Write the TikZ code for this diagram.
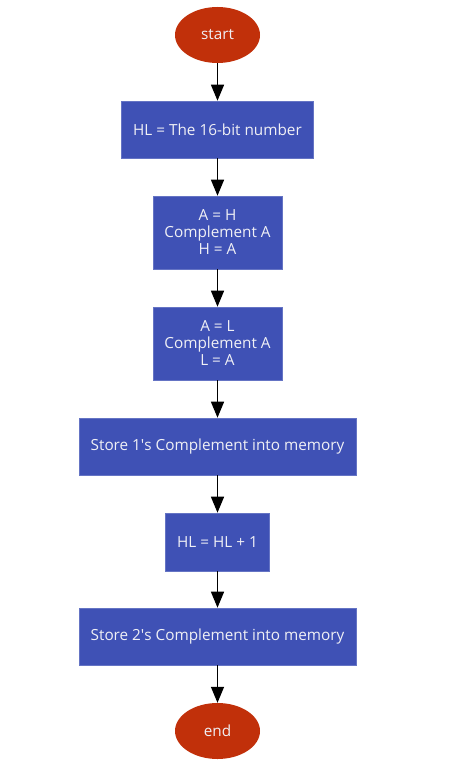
\documentclass[tikz,border=0pt]{standalone}
\usepackage{fontspec}
\setmainfont{Open Sans}
\usepackage{tikz}
\usetikzlibrary{shapes.geometric,arrows.meta}

\definecolor{termred}{RGB}{193,48,10}
\definecolor{stepblue}{RGB}{63,81,181}
\definecolor{steptext}{RGB}{240,240,245}

\tikzset{
    terminal/.style={ellipse, fill=termred, text=steptext, minimum width=85pt, minimum height=56pt, inner sep=0pt},
    process/.style={rectangle, fill=stepblue, draw=stepblue!80!white, line width=0.6pt, text=steptext, align=center, inner xsep=11.5pt, minimum height=57pt},
    flow/.style={-{Triangle[length=16pt,width=13pt]}, line width=1.4pt, black}
}

\begin{document}
\begin{tikzpicture}[x=1pt, y=-1pt, font=\fontsize{15.3}{17}\selectfont]
    \useasboundingbox (0,0) rectangle (452,768);

    % Start
    \node[terminal] (start) at (217.5, 35) {start};

    % Load the number
    \node[process] (load) at (217.5, 129.5) {HL = The 16-bit number};

    % Complement high byte
    \node[process, minimum height=73pt] (high) at (217.5, 232.5) {A = H\\Complement A\\H = A};

    % Complement low byte
    \node[process, minimum height=73pt] (low) at (217.5, 343.5) {A = L\\Complement A\\L = A};

    % Store 1's complement
    \node[process] (ones) at (217.5, 446.5) {Store 1\textquotesingle s Complement into memory};

    % Increment
    \node[process, minimum height=58pt] (inc) at (217.5, 542) {HL = HL + 1};

    % Store 2's complement
    \node[process] (twos) at (217.5, 636.5) {Store 2\textquotesingle s Complement into memory};

    % End
    \node[terminal] (end) at (217.5, 731) {end};

    % Connectors
    \draw[flow] (start) -- (load);
    \draw[flow] (load) -- (high);
    \draw[flow] (high) -- (low);
    \draw[flow] (low) -- (ones);
    \draw[flow] (ones) -- (inc);
    \draw[flow] (inc) -- (twos);
    \draw[flow] (twos) -- (end);
\end{tikzpicture}
\end{document}
